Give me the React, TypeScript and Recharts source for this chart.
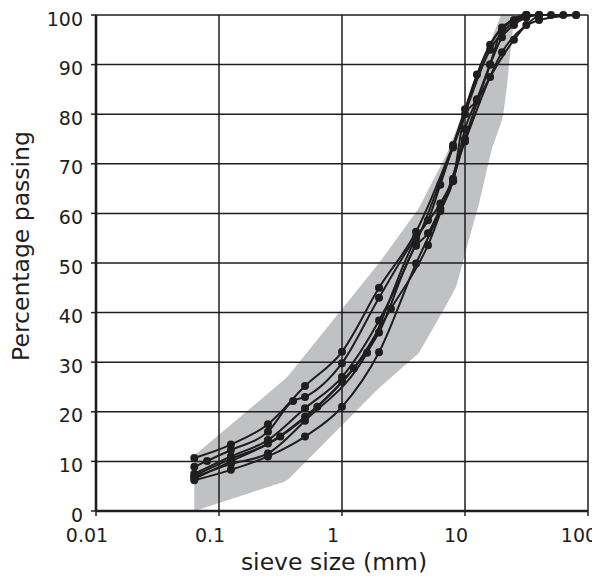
import React from 'react';
import { ComposedChart, Line, Area, XAxis, YAxis, ReferenceLine, Label } from 'recharts';

// axis ticks
const xTicks = [0.01, 0.1, 1, 10, 100];
const yTicks = [0, 10, 20, 30, 40, 50, 60, 70, 80, 90, 100];
const xGrid = [0.1, 1, 10, 100];
const yGrid = [10, 20, 30, 40, 50, 60, 70, 80, 90, 100];

// grading envelope (grey band)
const bandSizes = [0.063, 0.34, 0.37, 2, 4.2, 5.7, 7.1, 8.4, 9.1, 10.3, 13, 16.5, 19.5, 20.5, 22, 23, 24.5, 25.5];
const bandLow = [0, 5.9, 6.5, 24.8, 31.8, 37.5, 41.7, 45, 48, 53, 62, 73, 78, 80, 86, 91, 97, 100];
const bandHigh = [11.2, 26.5, 27.4, 50, 61, 67.4, 72, 76.5, 78.8, 82.2, 88.6, 95.3, 99.8, 100, 100, 100, 100, 100];

// grading curves
const sizesA = [0.063, 0.125, 0.25, 0.5, 1, 2, 4, 8, 16, 31.5, 63];
const passA = [10.7, 13.4, 17.5, 25.2, 32.1, 45, 56.3, 73.8, 94, 100, 100];

const sizesB = [0.063, 0.08, 0.125, 0.25, 0.4, 0.5, 1, 2, 4, 5, 6.3, 10, 12.5, 20, 25, 31.5, 40, 50, 80];
const passB = [8.9, 10.1, 12.3, 16, 22.2, 23, 29.8, 43, 55.3, 58.6, 65.8, 81, 88, 97.5, 99, 100, 100, 100, 100];

const sizesC = [0.063, 0.125, 0.25, 0.5, 1, 2, 4, 8, 16, 31.5];
const passC = [7.5, 11, 14.3, 20.7, 27, 38.4, 54, 73.3, 93, 100];

const sizesD = [0.063, 0.125, 0.315, 0.63, 1.25, 2.5, 5, 10, 20, 40, 80];
const passD = [6.5, 10, 15, 21, 28.8, 40.8, 53.6, 74.5, 92.5, 99, 100];

const sizesE = [0.063, 0.125, 0.25, 0.5, 1, 2, 4, 5, 6.3, 8, 10, 12.5, 16, 20, 25, 31.5, 40];
const passE = [7.1, 10.5, 13.6, 19, 26.1, 36, 53.5, 56, 61, 66.5, 77, 83, 90, 95.5, 98, 99.5, 100];

const sizesF = [0.063, 0.125, 0.25, 0.5, 1, 2, 4, 6.3, 8, 10, 12.5, 16, 25, 31.5, 40];
const passF = [6.2, 8.3, 11, 15, 21, 32, 49.9, 60.5, 66.7, 80, 82.7, 87.5, 95, 98, 100];

const sizesG = [0.063, 0.125, 0.25, 0.5, 1.6, 4, 6.3, 8, 10, 16, 20, 31.5];
const passG = [6.8, 9.5, 11.6, 18.2, 31.9, 55, 62, 67, 75, 90, 97, 100];

const zip = (sizes: number[], pass: number[]) => sizes.map((x, i) => ({ x, y: pass[i] }));

const curves = [
  zip(sizesA, passA),
  zip(sizesB, passB),
  zip(sizesC, passC),
  zip(sizesD, passD),
  zip(sizesE, passE),
  zip(sizesF, passF),
  zip(sizesG, passG),
];

const band = bandSizes.map((x, i) => ({ x, range: [bandLow[i], bandHigh[i]] }));

const FONT = '"DejaVu Sans", Verdana, sans-serif';
const INK = '#1f1d1e';
const BAND = '#c0c1c3';

const XTick = (props: any) => {
  const { x, y, payload } = props;
  return (
    <text x={x - 9} y={y + 24.3} textAnchor="middle" fontFamily={FONT} fontSize={19} fill={INK}>
      {String(payload.value)}
    </text>
  );
};

const YTick = (props: any) => {
  const { x, y, payload } = props;
  return (
    <text x={x} y={y + 10.5} textAnchor="end" fontFamily={FONT} fontSize={19} fill={INK}>
      {String(payload.value)}
    </text>
  );
};

const XTitle = (props: any) => {
  const vb = props.viewBox || { x: 88, y: 503, width: 492, height: 30 };
  return (
    <text x={vb.x + vb.width / 2 - 8} y={vb.y + 59} textAnchor="middle" fontFamily={FONT} fontSize={23.5} fill={INK}>
      sieve size (mm)
    </text>
  );
};

const YTitle = (props: any) => {
  const vb = props.viewBox || { x: 0, y: 7, width: 88, height: 496 };
  const cx = 21;
  const cy = vb.y + vb.height / 2 - 17;
  return (
    <text x={cx} y={cy} transform={`rotate(-90 ${cx} ${cy})`} textAnchor="middle" fontFamily={FONT} fontSize={23.5} fill={INK}>
      Percentage passing
    </text>
  );
};

export default function App() {
  return (
    <ComposedChart width={592} height={571} margin={{ top: 7, right: 12, bottom: 38, left: 0 }}>
      <XAxis
        dataKey="x"
        type="number"
        scale="log"
        domain={[0.01, 100]}
        ticks={xTicks}
        interval={0}
        height={30}
        tickSize={5}
        tickMargin={2}
        tick={<XTick />}
        axisLine={{ stroke: INK, strokeWidth: 2.6 }}
        tickLine={{ stroke: INK, strokeWidth: 1.5 }}
      >
        <Label content={<XTitle />} />
      </XAxis>
      <YAxis
        type="number"
        domain={[0, 100]}
        ticks={yTicks}
        interval={0}
        width={88}
        tickSize={5}
        tickMargin={8}
        tick={<YTick />}
        axisLine={{ stroke: INK, strokeWidth: 2.6 }}
        tickLine={{ stroke: INK, strokeWidth: 1.5 }}
      >
        <Label content={<YTitle />} />
      </YAxis>
      <Area
        data={band}
        dataKey="range"
        type="linear"
        stroke="none"
        fill={BAND}
        fillOpacity={1}
        isAnimationActive={false}
        activeDot={false}
      />
      {yGrid.map((v) => (
        <ReferenceLine key={'y' + v} y={v} stroke={INK} strokeWidth={1.5} zIndex={150} />
      ))}
      {xGrid.map((v) => (
        <ReferenceLine key={'x' + v} x={v} stroke={INK} strokeWidth={1.5} zIndex={150} />
      ))}
      {curves.map((d, i) => (
        <Line
          key={i}
          data={d}
          dataKey="y"
          type="monotone"
          stroke={INK}
          strokeWidth={2}
          dot={{ r: 4, fill: INK, stroke: INK, strokeWidth: 0 }}
          activeDot={false}
          isAnimationActive={false}
          legendType="none"
        />
      ))}
    </ComposedChart>
  );
}
